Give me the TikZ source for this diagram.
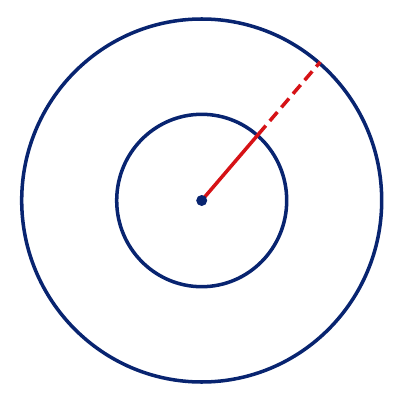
\documentclass[tikz,border=0pt]{standalone}
\usetikzlibrary{calc}
\definecolor{navy}{RGB}{8,36,112}
\definecolor{rline}{RGB}{214,18,22}
\begin{document}
\begin{tikzpicture}[x=0.025cm,y=-0.025cm,
  ring/.style={draw=navy,line width=2.5pt},
  radius line/.style={draw=rline,line width=2.5pt},
  dashpart/.style={radius line,dash pattern=on 8.3pt off 4.4pt}]
\useasboundingbox (0,0) rectangle (400,400);
\coordinate (O) at (201.7,200.5);
\draw[ring] (O) circle [x radius=180, y radius=181.5];
\draw[ring] (O) circle [x radius=85, y radius=86.2];
\coordinate (I) at ($(O)+(56.5,-66)$);
\coordinate (E) at ($(O)+(118.5,-138.5)$);
\draw[radius line] (O) -- (I);
\draw[dashpart] (I) -- (E);
\fill[navy] (O) circle [radius=5.5];
\end{tikzpicture}
\end{document}
